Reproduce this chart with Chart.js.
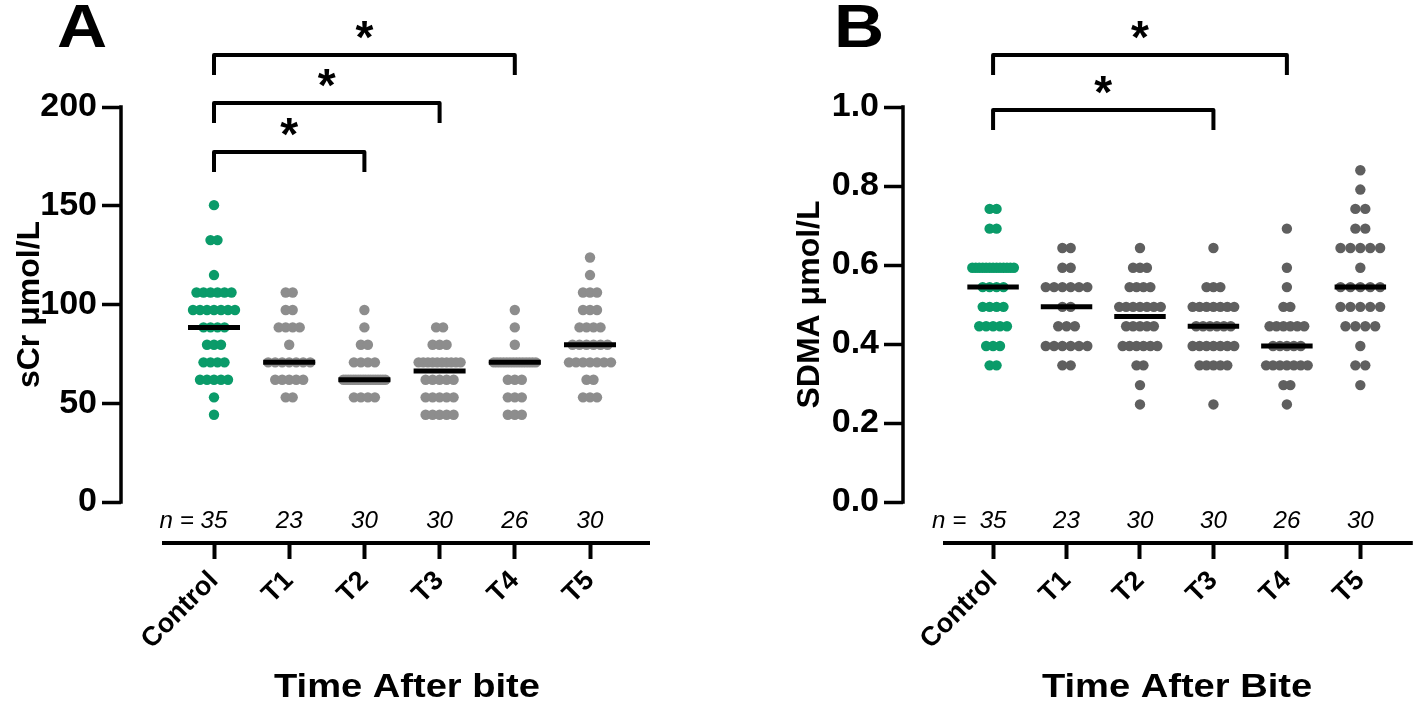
<!DOCTYPE html>
<html lang="en">
<head>
<meta charset="UTF-8">
<title>sCr and SDMA after bite</title>
<script src="https://cdn.jsdelivr.net/npm/chart.js"></script>
<style>
  body { margin: 0; background: #fff; }
  #wrap { position: relative; width: 1418px; height: 701px; overflow: hidden; }
  canvas { position: absolute; top: 0; }
</style>
</head>
<body>
<div id="wrap">
  <canvas id="chartA" width="780" height="701" style="left:0"></canvas>
  <canvas id="chartB" width="638" height="701" style="left:780px"></canvas>
</div>
<script>
  const groups = ['Control', 'T1', 'T2', 'T3', 'T4', 'T5'];

  // sCr levels (µmol/L) and how many animals sit on each level, per group
  const scrLevels = [44.2, 53.0, 61.9, 70.7, 79.6, 88.4, 97.2, 106.1, 114.9, 123.8, 132.6, 141.4, 150.3];
  const scrControl = [1, 1, 5, 4, 3, 4, 7, 6, 1, 0, 2, 0, 1];
  const scrT1 = [0, 2, 5, 7, 1, 4, 2, 2, 0, 0, 0, 0, 0];
  const scrT2 = [0, 4, 18, 4, 2, 1, 1, 0, 0, 0, 0, 0, 0];
  const scrT3 = [5, 5, 5, 10, 3, 2, 0, 0, 0, 0, 0, 0, 0];
  const scrT4 = [3, 3, 3, 14, 1, 1, 1, 0, 0, 0, 0, 0, 0];
  const scrT5 = [0, 3, 2, 7, 6, 4, 3, 3, 1, 1, 0, 0, 0];
  const scrTicks = [0, 50, 100, 150, 200];

  // SDMA levels (µmol/L), same idea
  const sdmaLevels = [0.247, 0.296, 0.346, 0.395, 0.445, 0.494, 0.544, 0.593, 0.643, 0.692, 0.742, 0.791, 0.840];
  const sdmaControl = [0, 0, 2, 3, 5, 4, 4, 13, 0, 2, 2, 0, 0];
  const sdmaT1 = [0, 0, 2, 6, 3, 2, 6, 2, 2, 0, 0, 0, 0];
  const sdmaT2 = [1, 1, 2, 6, 5, 7, 4, 3, 1, 0, 0, 0, 0];
  const sdmaT3 = [1, 0, 5, 7, 6, 7, 3, 0, 1, 0, 0, 0, 0];
  const sdmaT4 = [1, 2, 7, 5, 6, 2, 1, 1, 0, 1, 0, 0, 0];
  const sdmaT5 = [0, 1, 2, 1, 4, 5, 5, 1, 5, 2, 2, 1, 1];
  const sdmaTicks = [0, 0.2, 0.4, 0.6, 0.8, 1.0];

  // significance brackets, [from group, to group]
  const scrBrackets = [[0, 4], [0, 3], [0, 2]];
  const sdmaBrackets = [[0, 4], [0, 3]];

  const FONT = '"Liberation Sans", Arial, Helvetica, sans-serif';
  const GREEN = '#0a9b69';
  const H = 701;

  function median(levels, counts) {
    const vals = [];
    counts.forEach((k, r) => { for (let j = 0; j < k; j++) vals.push(levels[r]); });
    vals.sort((a, b) => a - b);
    const h = vals.length >> 1;
    return vals.length % 2 ? vals[h] : (vals[h - 1] + vals[h]) / 2;
  }

  // spread tied values sideways like a prism scatter column
  function swarm(levels, counts, col, step) {
    const maxK = Math.max(...counts);
    const base = maxK > 1 ? Math.min(10, 42 / (Math.min(maxK, 7) - 1)) : 10;
    const pts = [];
    counts.forEach((k, r) => {
      const gap = k > 1 ? Math.min(base, 42 / (k - 1)) : 0;
      for (let j = 0; j < k; j++) {
        pts.push({ x: col + (j - (k - 1) / 2) * gap / step, y: levels[r] });
      }
    });
    return pts;
  }

  // the figure's lettering runs a little wider than Arial, so stretch it a bit
  function wideText(ctx, text, x, y, sx) {
    ctx.save();
    ctx.translate(x, y);
    ctx.scale(sx, 1);
    ctx.fillText(text, 0, 0);
    ctx.restore();
  }

  const panelDecor = {
    id: 'panelDecor',
    afterDraw(chart, args, p) {
      const { ctx, chartArea: area, scales: { x, y } } = chart;
      ctx.save();
      ctx.strokeStyle = '#000';
      ctx.fillStyle = '#000';

      // y axis stops at zero, x axis sits lower and starts a bit to the right
      ctx.lineWidth = 3.5;
      ctx.lineCap = 'square';
      ctx.beginPath();
      ctx.moveTo(area.left, y.getPixelForValue(p.ticks[p.ticks.length - 1]));
      ctx.lineTo(area.left, y.getPixelForValue(0));
      ctx.stroke();

      ctx.lineWidth = 4;
      ctx.lineCap = 'butt';
      ctx.beginPath();
      ctx.moveTo(p.lineFrom, area.bottom);
      ctx.lineTo(area.right, area.bottom);
      ctx.stroke();

      // n per group
      ctx.font = 'italic 23px ' + FONT;
      ctx.textBaseline = 'alphabetic';
      ctx.textAlign = 'center';
      p.counts.forEach((c, i) => {
        const n = String(c.reduce((a, b) => a + b, 0));
        const cx = x.getPixelForValue(i);
        wideText(ctx, n, cx, 528, 1.05);
        if (i === 0) {
          ctx.textAlign = 'right';
          wideText(ctx, 'n =' + p.nGap, cx - ctx.measureText(n).width * 1.05 / 2, 528, 1.05);
          ctx.textAlign = 'center';
        }
      });

      // brackets with stars
      ctx.lineWidth = 4;
      ctx.lineJoin = 'round';
      p.brackets.forEach(([a, b], k) => {
        const by = p.bracketY[k];
        const xa = x.getPixelForValue(a);
        const xb = x.getPixelForValue(b);
        ctx.beginPath();
        ctx.moveTo(xa, by + 20);
        ctx.lineTo(xa, by);
        ctx.lineTo(xb, by);
        ctx.lineTo(xb, by + 20);
        ctx.stroke();
        ctx.font = 'bold 46px ' + FONT;
        ctx.textAlign = 'center';
        ctx.fillText('*', (xa + xb) / 2, by - 2);
      });

      // axis titles
      ctx.font = 'bold 34px ' + FONT;
      ctx.textAlign = 'center';
      ctx.textBaseline = 'middle';
      wideText(ctx, p.xTitle, p.xTitleX, 688, 1.12);
      ctx.font = 'bold 32px ' + FONT;
      ctx.save();
      ctx.translate(p.yTitleX, (y.getPixelForValue(0) + y.getPixelForValue(p.ticks[p.ticks.length - 1])) / 2);
      ctx.rotate(-Math.PI / 2);
      ctx.fillText(p.yTitle, 0, 0);
      ctx.restore();

      // panel letter
      ctx.font = 'bold 62px ' + FONT;
      ctx.textBaseline = 'alphabetic';
      wideText(ctx, p.letter, p.letterX, 47, 1.12);
      ctx.restore();
    }
  };

  function buildChart(p) {
    const canvas = document.getElementById(p.canvas);
    const yMax = p.ticks[p.ticks.length - 1];
    const pxPerUnit = (p.zeroY - p.top) / yMax;

    const medianPts = [];
    p.counts.forEach((c, i) => {
      const m = median(p.levels, c);
      const hw = 26 / p.step;
      medianPts.push({ x: i - hw, y: m }, { x: i + hw, y: m }, { x: i, y: null });
    });

    const datasets = [{
      type: 'line',
      data: medianPts,
      borderColor: '#000',
      borderWidth: 5,
      borderCapStyle: 'butt',
      pointRadius: 0,
      spanGaps: false
    }];
    p.counts.forEach((c, i) => {
      datasets.push({
        type: 'scatter',
        data: swarm(p.levels, c, i, p.step),
        backgroundColor: i === 0 ? GREEN : p.grey,
        borderWidth: 0,
        pointRadius: 5.2
      });
    });

    return new Chart(canvas, {
      type: 'scatter',
      data: { datasets },
      options: {
        responsive: false,
        devicePixelRatio: 1,
        animation: false,
        events: [],
        layout: { padding: { top: p.top, right: canvas.width - p.right, left: 0, bottom: 0 } },
        plugins: { legend: { display: false }, tooltip: { enabled: false }, panelDecor: p },
        scales: {
          x: {
            type: 'linear',
            min: (p.axisX - p.cat0) / p.step,
            max: (p.right - p.cat0) / p.step,
            afterBuildTicks: s => { s.ticks = groups.map((g, i) => ({ value: i })); },
            afterFit: s => { s.height = H - p.bottom; },
            border: { display: false },
            grid: { drawOnChartArea: false, tickLength: 16, tickWidth: 4, tickColor: '#000' },
            ticks: {
              autoSkip: false, minRotation: 45, maxRotation: 45, padding: 6,
              color: '#000', font: { family: FONT, size: 27, weight: 'bold' },
              callback: v => groups[v]
            }
          },
          y: {
            min: -(p.bottom - p.zeroY) / pxPerUnit,
            max: yMax,
            afterBuildTicks: s => { s.ticks = p.ticks.map(v => ({ value: v })); },
            afterFit: s => { s.width = p.axisX; },
            border: { display: false },
            grid: { drawOnChartArea: false, tickLength: 19, tickWidth: 3.5, tickColor: '#000' },
            ticks: {
              padding: 5, color: '#000',
              font: { family: FONT, size: 34, weight: 'bold' },
              callback: p.tickFmt
            }
          }
        }
      },
      plugins: [panelDecor]
    });
  }

  buildChart({
    canvas: 'chartA', letter: 'A', letterX: 82,
    xTitle: 'Time After bite', xTitleX: 407, yTitle: 'sCr μmol/L', yTitleX: 30,
    levels: scrLevels, counts: [scrControl, scrT1, scrT2, scrT3, scrT4, scrT5],
    ticks: scrTicks, tickFmt: v => String(v),
    brackets: scrBrackets, bracketY: [55, 103, 152], nGap: ' ',
    axisX: 121, cat0: 214, step: 75.2, right: 650, lineFrom: 162,
    top: 107, zeroY: 502, bottom: 543, grey: '#8d8d8d'
  });

  buildChart({
    canvas: 'chartB', letter: 'B', letterX: 79,
    xTitle: 'Time After Bite', xTitleX: 397, yTitle: 'SDMA μmol/L', yTitleX: 30,
    levels: sdmaLevels, counts: [sdmaControl, sdmaT1, sdmaT2, sdmaT3, sdmaT4, sdmaT5],
    ticks: sdmaTicks, tickFmt: v => v.toFixed(1),
    brackets: sdmaBrackets, bracketY: [55, 110], nGap: '  ',
    axisX: 123, cat0: 214, step: 74.2, right: 638, lineFrom: 163,
    top: 107, zeroY: 502, bottom: 543, grey: '#5f5f5f'
  });
</script>
</body>
</html>
